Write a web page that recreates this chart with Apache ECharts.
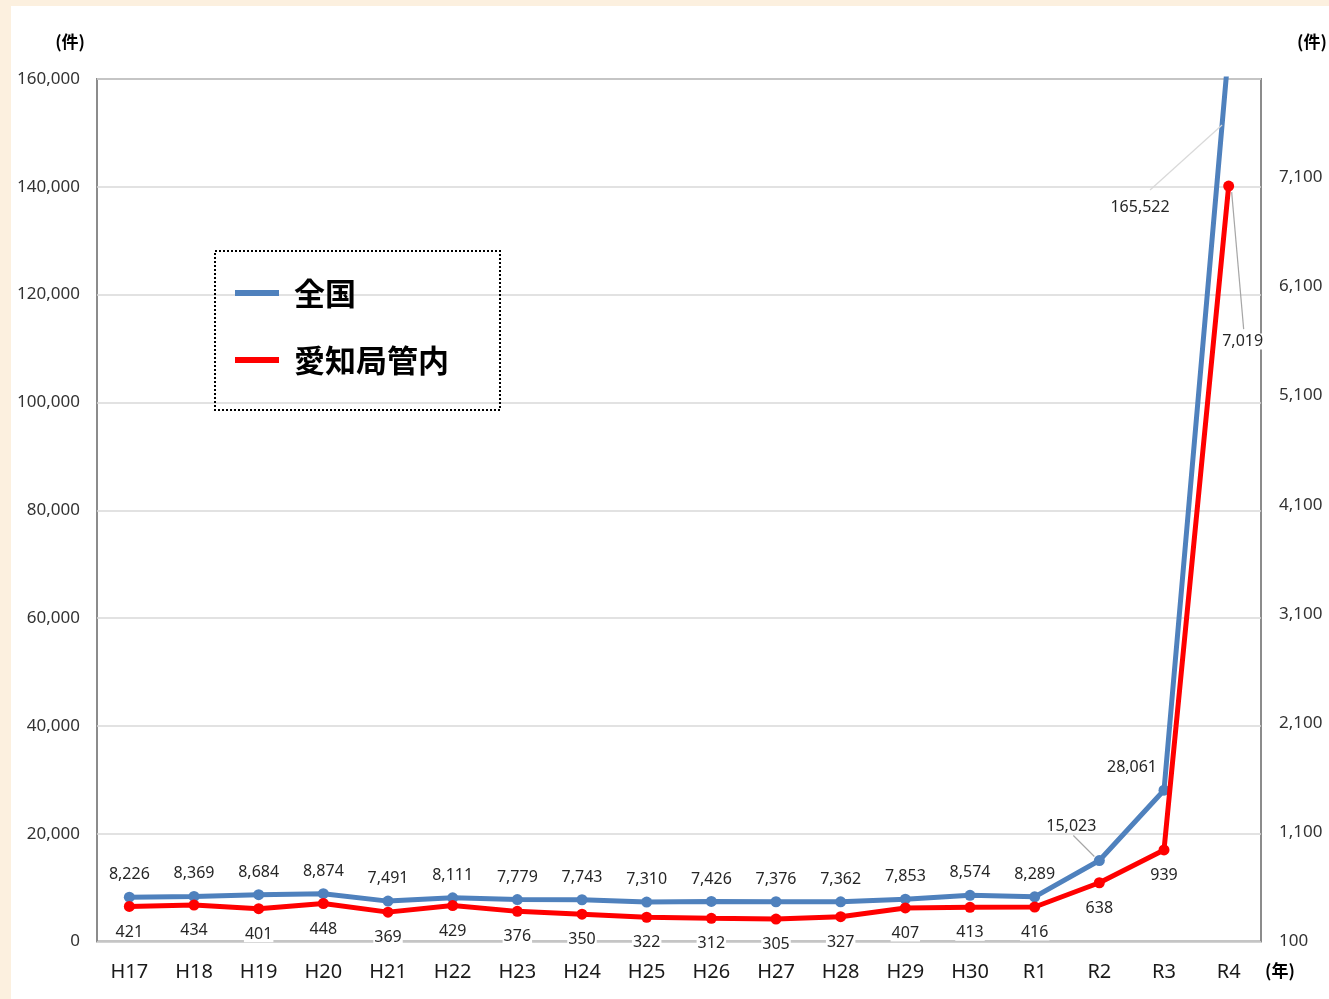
<!DOCTYPE html>
<html><head><meta charset="utf-8">
<script src="https://cdn.jsdelivr.net/npm/echarts@6/dist/echarts.min.js"></script>
<style>
html,body{margin:0;padding:0;background:#FCF0DF;width:1329px;height:999px;overflow:hidden;}
#chart{position:absolute;left:11px;top:6px;width:1318px;height:993px;background:#fff;}
</style></head><body>
<div id="chart"></div>
<script>
const categories = ['H17','H18','H19','H20','H21','H22','H23','H24','H25','H26','H27','H28','H29','H30','R1','R2','R3','R4'];
const nationalValues = [8226,8369,8684,8874,7491,8111,7779,7743,7310,7426,7376,7362,7853,8574,8289,15023,28061,165522];
const aichiValues = [421,434,401,448,369,429,376,350,322,312,305,327,407,413,416,638,939,7019];
const seriesNames = ['全国','愛知局管内'];
const leftAxis = {min:0, max:160000, interval:20000};
const rightAxis = {min:100, max:8000, interval:1000};

const fmt = v => Number(v).toLocaleString('en-US');
const numFont = '"Noto Sans", "Noto Sans CJK JP", sans-serif';
const cjkFont = '"Noto Sans CJK JP", sans-serif';
const BLUE = '#4F81BD', RED = '#FF0000';
const G = {left:86, top:73, right:68, bottom:57.5};
const W = 1318, H = 993;

const chart = echarts.init(document.getElementById('chart'));
const option = {
  animation: false,
  grid: {left:G.left, top:G.top, right:G.right, bottom:G.bottom, show:true, borderColor:'#8c8c8c', borderWidth:2, backgroundColor:'#fff', containLabel:false, outerBoundsMode:'none'},
  legend: {
    orient:'vertical', left:204, top:245,
    padding:[24,51,32,20], itemGap:31, itemWidth:44, itemHeight:6, itemTextGap:17,
    borderColor:'#000', borderWidth:2, borderType:'dotted',
    icon:'rect',
    textStyle:{fontFamily:cjkFont, fontWeight:'bold', fontSize:31, color:'#000', lineHeight:36, padding:[0,0,0,10]},
    data: seriesNames
  },
  xAxis: {
    type:'category', data:categories, boundaryGap:true,
    axisLine:{show:false}, axisTick:{show:false},
    axisLabel:{fontFamily:numFont, fontSize:20, color:'#1a1a1a', margin:21}
  },
  yAxis: [
    {type:'value', min:leftAxis.min, max:leftAxis.max, interval:leftAxis.interval,
     axisLine:{show:false}, axisTick:{show:false},
     splitLine:{lineStyle:{color:'#d9d9d9', width:1.5}},
     axisLabel:{fontFamily:numFont, fontSize:17, color:'#333', margin:17, padding:[0,0,7,0], formatter:v=>fmt(v)},
     name:'(件)', nameLocation:'end', nameGap:29,
     nameTextStyle:{fontFamily:cjkFont, fontWeight:'bold', fontSize:17, color:'#000', align:'right', padding:[0,12,0,0]}},
    {type:'value', min:rightAxis.min, max:rightAxis.max, interval:rightAxis.interval,
     axisLine:{show:false}, axisTick:{show:false}, splitLine:{show:false},
     axisLabel:{fontFamily:numFont, fontSize:17, color:'#333', margin:18, padding:[0,0,7,0], showMaxLabel:false, formatter:v=>fmt(v)},
     name:'(件)', nameLocation:'end', nameGap:29,
     nameTextStyle:{fontFamily:cjkFont, fontWeight:'bold', fontSize:17, color:'#000', align:'left', padding:[0,0,0,36]}}
  ],
  series: [
    {name:seriesNames[0], type:'line', yAxisIndex:0, data:nationalValues, clip:true,
     symbol:'circle', symbolSize:11, showAllSymbol:true,
     lineStyle:{color:BLUE, width:5}, itemStyle:{color:BLUE},
     label:{show:true, position:'top', distance:9, fontFamily:numFont, fontSize:16, color:'#262626', formatter:p=>fmt(p.value)},
     labelLayout:function(p){ if(p.dataIndex===15) return {dx:-28, dy:-12}; if(p.dataIndex===16) return {dx:-32, dy:0}; return {}; },
     z:3},
    {name:seriesNames[1], type:'line', yAxisIndex:1, data:aichiValues,
     symbol:'circle', symbolSize:11, showAllSymbol:true,
     lineStyle:{color:RED, width:5}, itemStyle:{color:RED},
     label:{show:true, position:'bottom', distance:12, fontFamily:numFont, fontSize:16, color:'#262626', backgroundColor:'#fff', padding:[0,1], formatter:p=>fmt(p.value)},
     labelLayout:function(p){ if(p.dataIndex===17) return {dx:14, dy:130}; return {}; },
     z:4}
  ]
};
chart.setOption(option);

// leader lines, the out-of-range label and the x-axis unit, positioned from the axes
const px = (s, i, v) => chart.convertToPixel({seriesIndex:s}, [i, v]);
const last = categories.length - 1;
const b15 = px(0, 15, nationalValues[15]);
const r17 = px(1, last, aichiValues[last]);
const b16 = px(0, 16, nationalValues[16]);
const b17 = px(0, last, nationalValues[last]);
const yA = G.top + 46;
const t = (b16[1] - yA) / (b16[1] - b17[1]);
const xA = b16[0] + t * (b17[0] - b16[0]);
chart.setOption({
  graphic: [
    {type:'line', shape:{x1:b15[0]-26, y1:b15[1]-25, x2:b15[0]-5, y2:b15[1]-4}, style:{stroke:'#a6a6a6', lineWidth:1.2}, z:10},
    {type:'line', shape:{x1:r17[0]+3, y1:r17[1]+6, x2:r17[0]+15, y2:r17[1]+143}, style:{stroke:'#a6a6a6', lineWidth:1.2}, z:10},
    {type:'line', shape:{x1:xA-72, y1:yA+65, x2:xA, y2:yA}, style:{stroke:'#d9d9d9', lineWidth:1.2}, z:10},
    {type:'text', x:xA-82, y:yA+82, style:{text:fmt(nationalValues[last]), fontFamily:numFont, fontSize:16, fill:'#262626', align:'center', verticalAlign:'middle'}, z:10},
    {type:'text', x:W-G.right+4, y:H-G.bottom+29, style:{text:'(年)', fontFamily:cjkFont, fontWeight:'bold', fontSize:17, fill:'#000', align:'left', verticalAlign:'middle'}, z:10}
  ]
});
</script>
</body></html>
